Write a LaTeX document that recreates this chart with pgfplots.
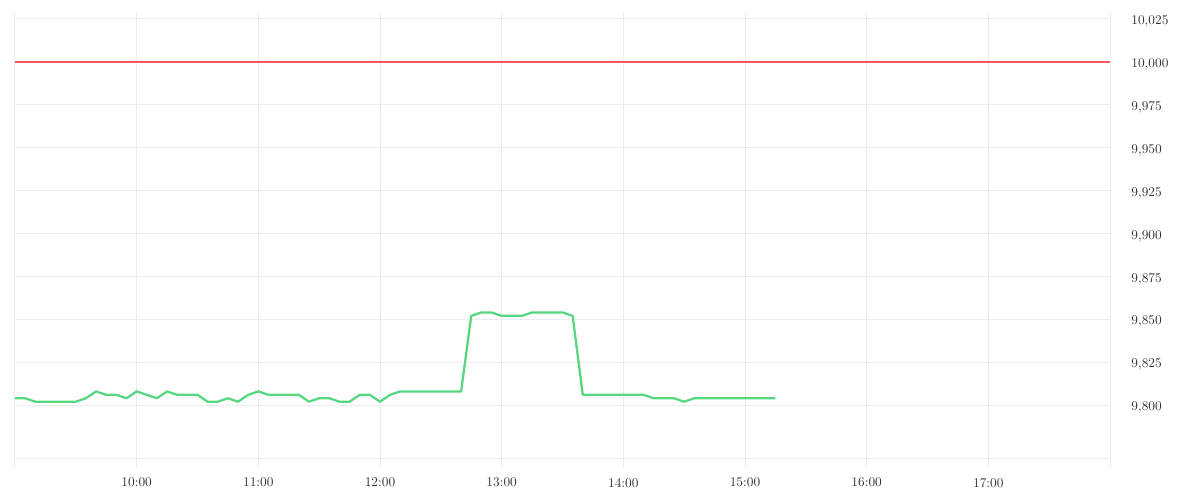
\documentclass[border=0pt]{standalone}
\usepackage{pgfplots}
\pgfplotsset{compat=1.18}
\definecolor{gridgray}{RGB}{236,236,236}
\definecolor{linegreen}{RGB}{86,214,128}
\definecolor{limitred}{RGB}{255,88,94}
% 1 px of the reference = 0.75pt
\begin{document}
\begin{tikzpicture}
\useasboundingbox (-11.25pt,-31.5pt) rectangle (888.75pt,343.5pt);
\begin{axis}[
    at={(0,0)}, anchor=south west,
    scale only axis,
    width=821.25pt, height=334.5pt,
    xmin=540, xmax=1080,
    ymin=9769.2, ymax=10029,
    axis x line=bottom, axis y line=right,
    axis line style={draw=gridgray, line width=0.75pt, -},
    xtick={540,600,660,720,780,840,900,960,1020,1080},
    xticklabels={,10:00,11:00,12:00,13:00,14:00,15:00,16:00,17:00,},
    ytick={9800,9825,9850,9875,9900,9925,9950,9975,10000,10025},
    scaled y ticks=false,
    /pgf/number format/fixed,
    /pgf/number format/precision=0,
    /pgf/number format/1000 sep={\mathord{,}},
    yticklabel style={anchor=west, xshift=5pt, yshift=-2pt},
    xticklabel style={yshift=-4pt},
    tick align=outside,
    xtick style={draw=gridgray, line width=0.75pt},
    major tick length=7.5pt,
    ytick style={draw=none},
    grid=major,
    major grid style={draw=gridgray, line width=0.75pt},
    tick label style={font=\fontsize{10}{12}\selectfont, text=black!80},
    clip=false,
]
% limit line
\addplot[color=limitred, line width=1.1pt] coordinates {(540,10000) (1080,10000)};
% price, 5-minute steps (minutes since midnight)
\addplot[color=linegreen, line width=1.7pt, line join=round] coordinates {
(540,9804) (545,9804) (550,9802) (555,9802) (560,9802) (565,9802) (570,9802)
(575,9804) (580,9808) (585,9806) (590,9806) (595,9804) (600,9808) (605,9806)
(610,9804) (615,9808) (620,9806) (625,9806) (630,9806) (635,9802) (640,9802)
(645,9804) (650,9802) (655,9806) (660,9808) (665,9806) (670,9806) (675,9806)
(680,9806) (685,9802) (690,9804) (695,9804) (700,9802) (705,9802) (710,9806)
(715,9806) (720,9802) (725,9806) (730,9808) (735,9808) (740,9808) (745,9808)
(750,9808) (755,9808) (760,9808) (765,9852) (770,9854) (775,9854) (780,9852)
(785,9852) (790,9852) (795,9854) (800,9854) (805,9854) (810,9854) (815,9852)
(820,9806) (825,9806) (830,9806) (835,9806) (840,9806) (845,9806) (850,9806)
(855,9804) (860,9804) (865,9804) (870,9802) (875,9804) (880,9804) (885,9804)
(890,9804) (895,9804) (900,9804) (905,9804) (910,9804) (915,9804)
};
\end{axis}
\end{tikzpicture}
\end{document}
